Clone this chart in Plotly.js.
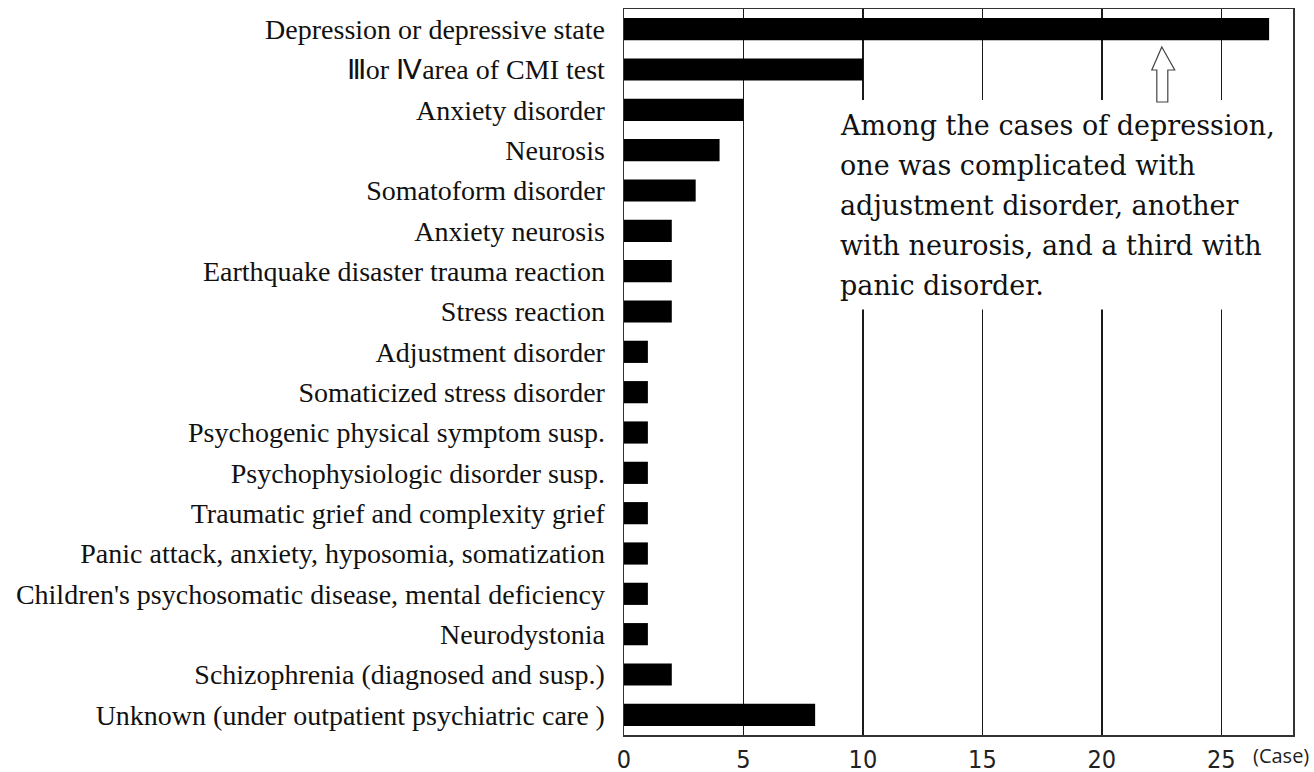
<!DOCTYPE html>
<html>
<head>
<meta charset="utf-8">
<script src="https://cdn.plot.ly/plotly-3.0.1.min.js"></script>
<style>html,body{margin:0;padding:0;background:#fff;}#chart{width:1314px;height:772px;}</style>
</head>
<body>
<div id="chart"></div>
<script>
const categories = [
  "Depression or depressive state",
  "\u2162or \u2163area of CMI test",
  "Anxiety disorder",
  "Neurosis",
  "Somatoform disorder",
  "Anxiety neurosis",
  "Earthquake disaster trauma reaction",
  "Stress reaction",
  "Adjustment disorder",
  "Somaticized stress disorder",
  "Psychogenic physical symptom susp.",
  "Psychophysiologic disorder susp.",
  "Traumatic grief and complexity grief",
  "Panic attack, anxiety, hyposomia, somatization",
  "Children's psychosomatic disease, mental deficiency",
  "Neurodystonia",
  "Schizophrenia (diagnosed and susp.)",
  "Unknown (under outpatient psychiatric care )"
];
const cases = [27, 10, 5, 4, 3, 2, 2, 2, 1, 1, 1, 1, 1, 1, 1, 1, 2, 8];
const tickValues = [0, 5, 10, 15, 20, 25];
const axisUnit = "(Case)";
const noteLines = [
  "Among the cases of depression,",
  "one was complicated with",
  "adjustment disorder, another",
  "with neurosis, and a third with",
  "panic disorder."
];

const trace = {
  type: "bar",
  orientation: "h",
  y: categories,
  x: cases,
  marker: {color: "#000000", line: {width: 0}},
  hoverinfo: "x+y"
};

// note layout (paper fraction): first line centre and line spacing
const noteTop = 0.8402, noteStep = 0.0551;
const noteAnnotations = noteLines.map((t, i) => ({
  text: t,
  xref: "x", yref: "paper",
  x: 8.95, y: noteTop - i * noteStep,
  xanchor: "left", yanchor: "middle",
  align: "left",
  showarrow: false,
  font: {family: "DejaVu Serif, Liberation Serif, serif", size: 27, color: "#111111"}
}));

const layout = {
  width: 1314,
  height: 772,
  margin: {l: 624, r: 21, t: 9, b: 37, pad: 0},
  paper_bgcolor: "#ffffff",
  plot_bgcolor: "#ffffff",
  showlegend: false,
  bargap: 0.45,
  xaxis: {
    range: [0, 28],
    tickvals: tickValues,
    ticktext: tickValues.map(String),
    showgrid: true,
    gridcolor: "#1a1a1a",
    gridwidth: 1.5,
    zeroline: false,
    showline: true,
    linecolor: "#333333",
    linewidth: 1.5,
    mirror: true,
    ticks: "",
    ticklabelstandoff: 1,
    tickfont: {family: "Liberation Sans Narrow, DejaVu Sans Condensed, sans-serif", size: 25, color: "#222222"},
    fixedrange: true
  },
  yaxis: {
    autorange: "reversed",
    showgrid: false,
    zeroline: false,
    showline: true,
    linecolor: "#333333",
    linewidth: 1.5,
    mirror: true,
    ticks: "",
    ticklabelstandoff: 12,
    tickfont: {family: "Liberation Serif, Times New Roman, serif", size: 28, color: "#111111"},
    fixedrange: true
  },
  shapes: [
    {
      type: "rect",
      xref: "x", yref: "paper",
      x0: 8.7, x1: 27.7, y0: 0.586, y1: 0.8747,
      fillcolor: "#ffffff",
      line: {width: 0},
      layer: "above"
    },
    {
      type: "path",
      xref: "x", yref: "paper",
      path: "M 22.51 0.9477 L 23.05 0.9160 L 22.76 0.9160 L 22.76 0.8719 L 22.30 0.8719 L 22.30 0.9160 L 22.09 0.9160 Z",
      fillcolor: "#ffffff",
      line: {color: "#444444", width: 1.2},
      layer: "above"
    }
  ],
  annotations: noteAnnotations.concat([
    {
      text: axisUnit,
      xref: "paper", yref: "paper",
      x: 1.0, y: 0,
      xanchor: "center", yanchor: "top",
      yshift: -5,
      xshift: -12,
      showarrow: false,
      font: {family: "Open Sans, Liberation Sans, sans-serif", size: 20, color: "#222222"}
    }
  ])
};

Plotly.newPlot("chart", [trace], layout, {displayModeBar: false, staticPlot: true});
</script>
</body>
</html>
